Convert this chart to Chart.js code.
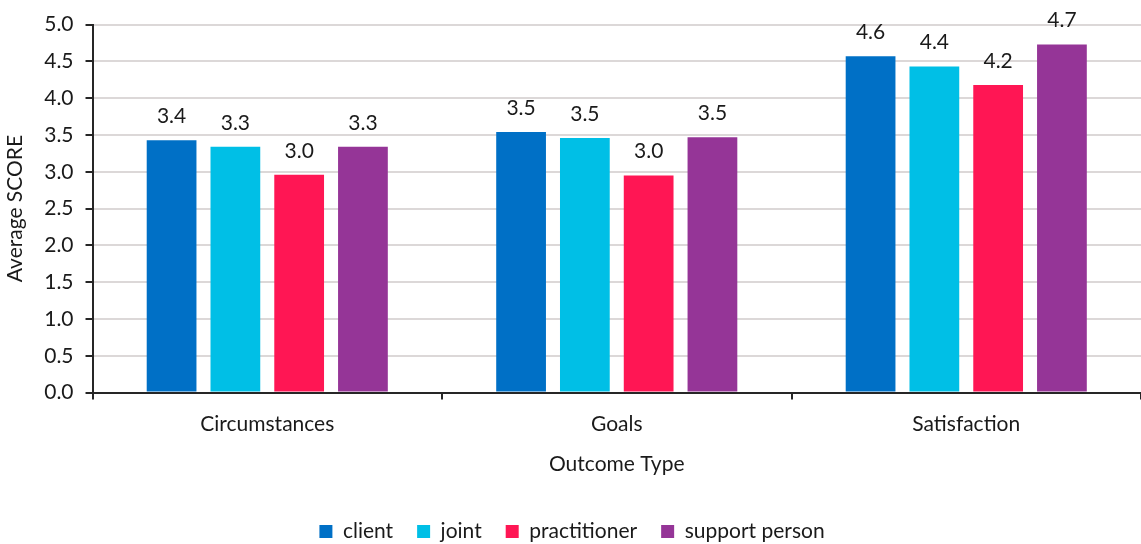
<!DOCTYPE html>
<html>
<head>
<meta charset="utf-8">
<script src="https://cdn.jsdelivr.net/npm/chart.js@4.4.1/dist/chart.umd.min.js"></script>
<style>
  html, body { margin: 0; padding: 0; background: #fff; }
  #wrap { width: 1141px; height: 544px; }
</style>
</head>
<body>
<div id="wrap"><canvas id="chart-outcome"></canvas></div>
<script>
const categories = ['Circumstances', 'Goals', 'Satisfaction'];
const clientScores = [3.43, 3.54, 4.57];
const jointScores = [3.34, 3.46, 4.43];
const practitionerScores = [2.96, 2.95, 4.18];
const supportScores = [3.34, 3.47, 4.73];

const seriesNames = ['client', 'joint', 'practitioner', 'support person'];
const seriesColors = ['#0070C6', '#00BFE6', '#FF1654', '#953597'];
const seriesValues = [clientScores, jointScores, practitionerScores, supportScores];

const fontFamily = 'Lato, "Liberation Sans", sans-serif';
const fontSize = 21;
const textColor = '#1a1a1a';
const axisColor = '#262626';

// value labels above each bar
const barLabels = {
  id: 'barLabels',
  afterDatasetsDraw(chart) {
    const ctx = chart.ctx;
    ctx.save();
    ctx.font = fontSize + 'px ' + fontFamily;
    ctx.fillStyle = textColor;
    ctx.textAlign = 'center';
    ctx.textBaseline = 'middle';
    chart.data.datasets.forEach(function(ds, i) {
      chart.getDatasetMeta(i).data.forEach(function(bar, j) {
        ctx.fillText(ds.data[j].toFixed(1), bar.x, bar.y - 24);
      });
    });
    ctx.restore();
  }
};

const datasets = seriesNames.map(function(name, i) {
  return {
    label: name,
    data: seriesValues[i],
    backgroundColor: seriesColors[i],
    categoryPercentage: 0.73,
    barPercentage: 0.78
  };
});

let ctx = document.getElementById('chart-outcome');
let myChart = new Chart(ctx, {
  type: 'bar',
  data: { labels: categories, datasets: datasets },
  plugins: [barLabels],
  options: {
    responsive: true,
    maintainAspectRatio: false,
    animation: false,
    layout: { padding: { top: 18, right: 0, left: 3, bottom: -8 } },
    plugins: {
      tooltip: { enabled: false },
      legend: {
        position: 'bottom',
        labels: {
          boxWidth: 13,
          boxHeight: 13,
          padding: 24,
          color: textColor,
          font: { family: fontFamily, size: fontSize }
        }
      }
    },
    scales: {
      x: {
        grid: {
          display: true,
          drawOnChartArea: false,
          drawTicks: true,
          tickLength: 7,
          tickColor: axisColor,
          lineWidth: 2
        },
        border: { color: axisColor, width: 2 },
        ticks: {
          color: textColor,
          padding: 12,
          font: { family: fontFamily, size: fontSize }
        },
        title: {
          display: true,
          text: 'Outcome Type',
          color: textColor,
          padding: { top: 3, bottom: 20 },
          font: { family: fontFamily, size: fontSize }
        }
      },
      y: {
        min: 0,
        max: 5,
        ticks: {
          stepSize: 0.5,
          color: textColor,
          padding: 12,
          font: { family: fontFamily, size: fontSize },
          callback: function(v) { return v.toFixed(1); }
        },
        grid: {
          color: '#dcd8d8',
          lineWidth: 2,
          tickLength: 7,
          tickColor: axisColor
        },
        border: { color: axisColor, width: 2 },
        title: {
          display: true,
          text: 'Average SCORE',
          color: textColor,
          padding: { top: 0, bottom: 4 },
          font: { family: fontFamily, size: fontSize }
        }
      }
    }
  }
});
</script>
</body>
</html>
